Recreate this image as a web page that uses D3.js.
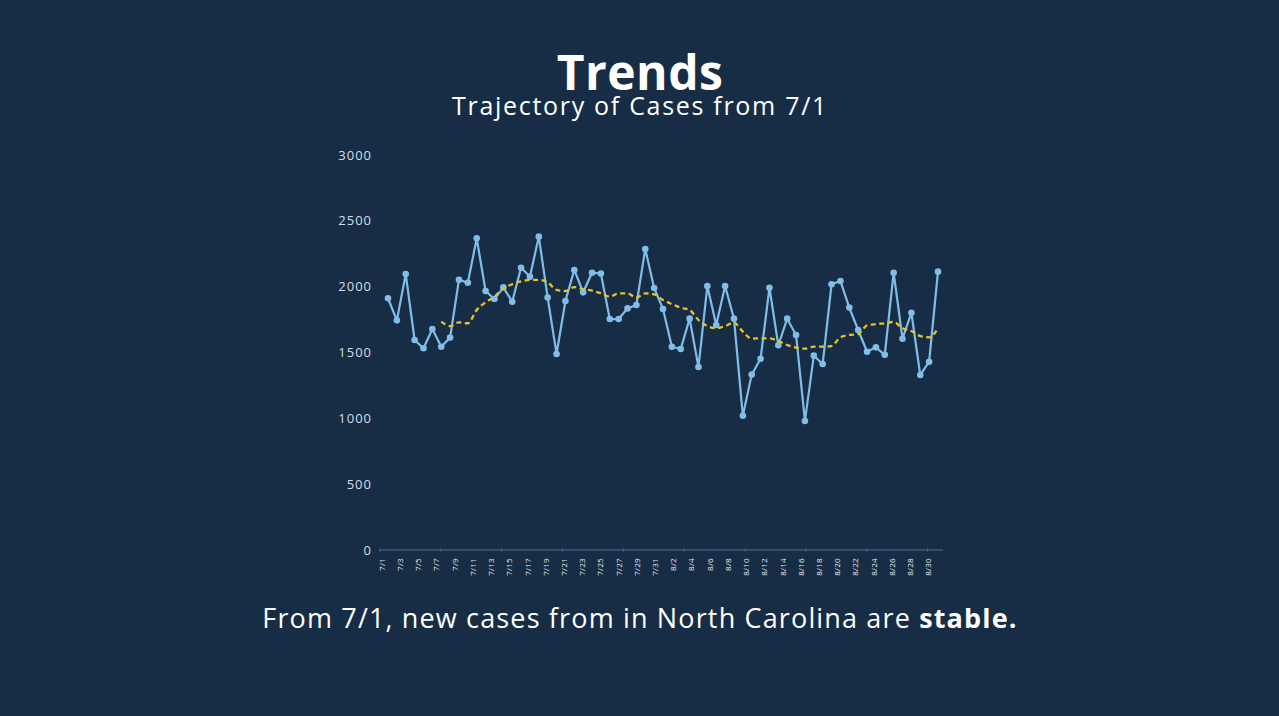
<!DOCTYPE html>
<html>
<head>
<meta charset="utf-8">
<script src="https://cdn.jsdelivr.net/npm/d3@7"></script>
<style>
  html, body { margin: 0; padding: 0; background: #172d45; }
  svg { display: block; }
</style>
</head>
<body>
<svg id="chart" width="1279" height="716"></svg>
<script>
// daily new cases, 7/1 onwards
var cases = [
  1912, 1744, 2096, 1595, 1532, 1678, 1544, 1613, 2053, 2030,
  2367, 1967, 1906, 1995, 1886, 2144, 2076, 2380, 1917, 1489,
  1891, 2127, 1957, 2106, 2100, 1754, 1754, 1835, 1861, 2286,
  1990, 1830, 1544, 1527, 1757, 1390, 2005, 1709, 2005, 1757,
  1020, 1332, 1453, 1992, 1555, 1757, 1633, 980, 1476, 1413,
  2018, 2043, 1841, 1671, 1506, 1539, 1483, 2106, 1605, 1802,
  1329, 1430, 2114
];

// 7-day average, starts at the 7th day
var avgStart = 6;
var average = [
  1734, 1701, 1729, 1722, 1823, 1881, 1924, 1987, 2018, 2040,
  2051, 2051, 2033, 1975, 1967, 1997, 1980, 1970, 1949, 1924,
  1949, 1949, 1917, 1949, 1942, 1899, 1868, 1840, 1823, 1747,
  1701, 1684, 1701, 1727, 1658, 1605, 1608, 1608, 1587, 1557,
  1537, 1529, 1544, 1544, 1549, 1615, 1633, 1640, 1706, 1716,
  1722, 1732, 1684, 1663, 1625, 1615, 1684
];

var dayLabels = [
  "7/1", "7/3", "7/5", "7/7", "7/9", "7/11", "7/13", "7/15", "7/17", "7/19",
  "7/21", "7/23", "7/25", "7/27", "7/29", "7/31", "8/2", "8/4", "8/6", "8/8",
  "8/10", "8/12", "8/14", "8/16", "8/18", "8/20", "8/22", "8/24", "8/26", "8/28",
  "8/30"
];

var yTicks = [0, 500, 1000, 1500, 2000, 2500, 3000];

var svg = d3.select("#chart");
var font = "'Open Sans', 'Noto Sans', sans-serif";

var axisLeft = 379, axisRight = 943;

var x = d3.scalePoint()
  .domain(d3.range(cases.length))
  .range([388, 938]);

var xLabels = d3.scalePoint()
  .domain(dayLabels)
  .range([382, 928.5]);

var y = d3.scaleLinear()
  .domain([0, 3000])
  .range([550, 155]);

// titles
svg.append("text")
  .attr("x", 640).attr("y", 90)
  .attr("text-anchor", "middle")
  .attr("fill", "#ffffff")
  .style("font-family", font)
  .style("font-weight", 700)
  .style("font-size", "48px")
  .style("letter-spacing", "0.5px")
  .text("Trends");

svg.append("text")
  .attr("x", 640).attr("y", 115)
  .attr("text-anchor", "middle")
  .attr("fill", "#ffffff")
  .style("font-family", font)
  .style("font-size", "25px")
  .style("letter-spacing", "1.7px")
  .text("Trajectory of Cases from 7/1");

// y axis labels, no line
svg.append("g")
  .selectAll("text")
  .data(yTicks)
  .enter()
  .append("text")
  .attr("x", 372)
  .attr("y", function(d) { return y(d); })
  .attr("dy", "0.35em")
  .attr("text-anchor", "end")
  .attr("fill", "#d6dde5")
  .style("font-family", font)
  .style("font-size", "13px")
  .style("letter-spacing", "1px")
  .text(function(d) { return d; });

// x axis line and small ticks
svg.append("line")
  .attr("x1", axisLeft).attr("x2", axisRight)
  .attr("y1", y(0)).attr("y2", y(0))
  .attr("stroke", "#3b5d80")
  .attr("stroke-width", 1.5);

var tickStep = (axisRight - axisLeft) / 9.27;
svg.append("g")
  .selectAll("line")
  .data(d3.range(10))
  .enter()
  .append("line")
  .attr("x1", function(k) { return axisLeft + 1 + k * tickStep; })
  .attr("x2", function(k) { return axisLeft + 1 + k * tickStep; })
  .attr("y1", y(0) - 2).attr("y2", y(0) + 2)
  .attr("stroke", "#3b5d80")
  .attr("stroke-width", 1);

svg.append("g")
  .selectAll("text")
  .data(dayLabels)
  .enter()
  .append("text")
  .attr("transform", function(d) {
    return "translate(" + xLabels(d) + "," + (y(0) + 8) + ") rotate(-90)";
  })
  .attr("dy", "0.35em")
  .attr("text-anchor", "end")
  .attr("fill", "#e6ebf0")
  .style("font-family", font)
  .style("font-size", "8px")
  .style("letter-spacing", "0.3px")
  .text(function(d) { return d; });

// daily cases
var line = d3.line()
  .x(function(d, i) { return x(i); })
  .y(function(d) { return y(d); });

svg.append("path")
  .datum(cases)
  .attr("d", line)
  .attr("fill", "none")
  .attr("stroke", "#80bde8")
  .attr("stroke-width", 2.2);

svg.append("g")
  .selectAll("circle")
  .data(cases)
  .enter()
  .append("circle")
  .attr("cx", function(d, i) { return x(i); })
  .attr("cy", function(d) { return y(d); })
  .attr("r", 3.3)
  .attr("fill", "#80bde8");

// moving average
var avgLine = d3.line()
  .x(function(d, i) { return x(i + avgStart); })
  .y(function(d) { return y(d); })
  .curve(d3.curveMonotoneX);

svg.append("path")
  .datum(average)
  .attr("d", avgLine)
  .attr("fill", "none")
  .attr("stroke", "#e5c42a")
  .attr("stroke-width", 2.3)
  .attr("stroke-dasharray", "5,3.5");

// takeaway
var note = svg.append("text")
  .attr("x", 640).attr("y", 628)
  .attr("text-anchor", "middle")
  .attr("fill", "#ffffff")
  .style("font-family", font)
  .style("font-size", "27px")
  .style("letter-spacing", "1.15px");
note.append("tspan").text("From 7/1, new cases from in North Carolina are ");
note.append("tspan").style("font-weight", 700).text("stable.");
</script>
</body>
</html>
